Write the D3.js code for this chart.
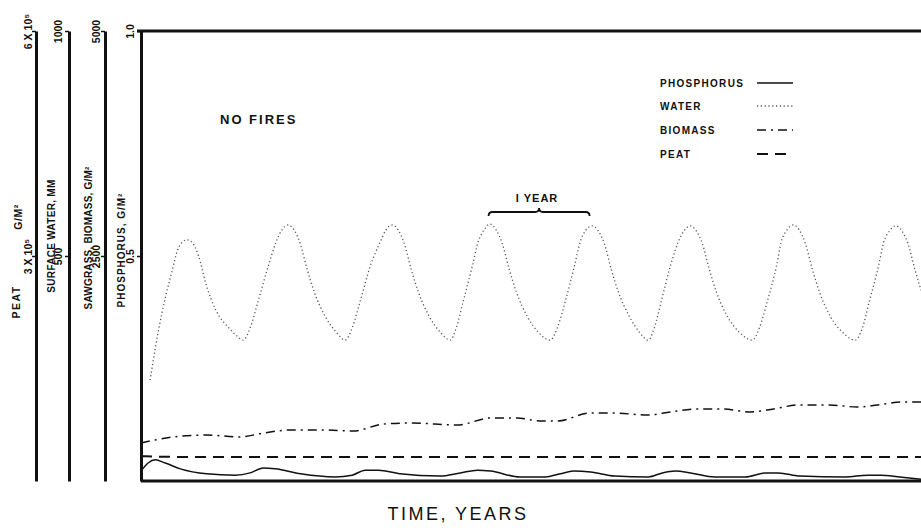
<!DOCTYPE html>
<html lang="en">
<head>
<meta charset="utf-8">
<title>No fires</title>
<script src="https://cdn.jsdelivr.net/npm/d3@7"></script>
<style>
  body { margin: 0; background: #fff; }
  svg { display: block; }
  .lbl { font-family: "Liberation Sans", Arial, sans-serif; font-weight: bold; fill: #111; }
  .axis path, .axis line { stroke: #111; }
  .axis text { font-family: "Liberation Sans", Arial, sans-serif; font-weight: bold; font-size: 10.5px; fill: #111; }
</style>
</head>
<body>
<script>
var w = 921, h = 528;

// [time in years, value]
var phosphorus = [[0,.022],[0.07,.040],[0.14,.047],[0.24,.040],[0.39,.027],[0.65,.016],[0.93,.013],[1.08,.018],
  [1.21,.029],[1.33,.027],[1.58,.016],[1.92,.009],[2.09,.013],[2.22,.024],[2.35,.024],[2.56,.016],[2.96,.011],
  [3.16,.018],[3.33,.024],[3.46,.022],[3.75,.009],[4.00,.009],[4.15,.016],[4.28,.022],[4.45,.020],[4.69,.011],
  [5.02,.009],[5.16,.018],[5.29,.022],[5.44,.018],[5.68,.009],[5.98,.009],[6.18,.018],[6.31,.018],[6.52,.011],
  [6.97,.009],[7.19,.013],[7.32,.013],[7.51,.009],[7.72,.004]];

// surface water, mm
var water = [[0.09,224],[0.17,331],[0.24,407],[0.31,469],[0.36,512],[0.41,531],[0.455,536],[0.51,529],
  [0.57,500],[0.64,440],[0.74,380],[0.87,340],[0.95,322],[1.01,313],
  [1.08,340],[1.16,400],[1.26,478],[1.335,530],[1.395,558],[1.455,569],
  [1.515,558],[1.575,528],[1.645,470],[1.715,420],[1.825,365],[1.935,330],[2.02,313],
  [2.09,340],[2.17,400],[2.27,478],[2.365,530],[2.425,558],[2.485,569],
  [2.545,558],[2.605,528],[2.675,470],[2.745,420],[2.855,365],[2.965,330],[3.06,313],
  [3.12,340],[3.19,400],[3.28,478],[3.335,530],[3.395,558],[3.455,571],
  [3.515,558],[3.575,528],[3.645,470],[3.715,420],[3.825,365],[3.935,330],[4.05,313],
  [4.12,340],[4.20,400],[4.29,478],[4.345,530],[4.405,558],[4.465,567],
  [4.525,556],[4.585,528],[4.655,470],[4.725,420],[4.835,365],[4.935,330],[5.02,313],
  [5.08,340],[5.15,400],[5.24,478],[5.315,530],[5.375,556],[5.435,567],
  [5.495,556],[5.555,528],[5.625,470],[5.695,420],[5.805,365],[5.925,330],[6.05,313],
  [6.12,340],[6.20,400],[6.29,478],[6.335,530],[6.395,558],[6.455,569],
  [6.515,558],[6.575,528],[6.645,470],[6.715,420],[6.825,365],[6.945,330],[7.07,313],
  [7.14,340],[7.21,400],[7.30,478],[7.35,530],[7.41,556],[7.47,567],
  [7.53,556],[7.59,528],[7.66,470],[7.72,424]];

var biomass = [[0,422],[0.32,489],[0.65,511],[0.98,489],[1.21,533],[1.48,567],[1.80,567],[2.10,556],
  [2.40,633],[2.69,644],[3.13,622],[3.46,700],[3.72,700],[3.95,667],[4.12,667],[4.45,756],[4.67,756],
  [5.01,733],[5.24,767],[5.50,800],[5.76,800],[6.03,767],[6.26,800],[6.50,844],[6.82,844],[7.09,822],
  [7.29,844],[7.54,878],[7.72,878]];

var peat = [[0,33000],[0.5,32000],[1,32000],[2,32000],[3,32000],[4,32000],[5,32000],[6,32000],[7,32000],[7.72,32000]];

var legendNames = ["PHOSPHORUS", "WATER", "BIOMASS", "PEAT"];
var peatTicks = [3e5, 6e5], peatTickLabels = ["3 X 10\u2075", "6 X 10\u2075"];
var waterTicks = [500, 1000], waterTickLabels = ["500", "1000"];
var biomassTicks = [2500, 5000], biomassTickLabels = ["2500", "5000"];
var phosTicks = [0.5, 1.0], phosTickLabels = ["0.5", "1.0"];

var plotTop = 31, plotBottom = 481, plotLeft = 141;

var svg = d3.select("body").append("svg").attr("width", w).attr("height", h);

var xScale = d3.scaleLinear().domain([0, 7.72]).range([plotLeft, w]);
var yPhos = d3.scaleLinear().domain([0, 1]).range([plotBottom, plotTop]);
var yWater = d3.scaleLinear().domain([0, 1000]).range([plotBottom, plotTop]);
var yBio = d3.scaleLinear().domain([0, 5000]).range([plotBottom, plotTop]);
var yPeat = d3.scaleLinear().domain([0, 6e5]).range([plotBottom, plotTop]);

// left axes
function drawAxis(scale, xPos, ticks, labels, off) {
  var ax = d3.axisLeft(scale).tickValues(ticks).tickSize(4).tickSizeOuter(0)
    .tickFormat(function(d, i) { return labels[i]; });
  var g = svg.append("g").attr("class", "axis")
    .attr("transform", "translate(" + xPos + ",0)").call(ax);
  g.select(".domain").attr("stroke-width", 3);
  g.selectAll(".tick line").attr("stroke-width", 1.5);
  g.selectAll(".tick text")
    .attr("transform", "rotate(-90)")
    .attr("x", 0).attr("y", -off).attr("dy", 0)
    .style("text-anchor", "middle");
  return g;
}
drawAxis(yPeat, 36, peatTicks, peatTickLabels, 4);
drawAxis(yWater, 69, waterTicks, waterTickLabels, 7);
drawAxis(yBio, 105, biomassTicks, biomassTickLabels, 5);
drawAxis(yPhos, plotLeft, phosTicks, phosTickLabels, 7);

// frame top and bottom
svg.append("line").attr("x1", plotLeft - 4).attr("x2", w).attr("y1", plotTop).attr("y2", plotTop)
  .attr("stroke", "#111").attr("stroke-width", 3);
svg.append("line").attr("x1", plotLeft).attr("x2", w).attr("y1", plotBottom).attr("y2", plotBottom)
  .attr("stroke", "#111").attr("stroke-width", 3);

// rotated axis titles
function vtext(txt, x, y, size, ls) {
  svg.append("text").attr("class", "lbl")
    .attr("transform", "translate(" + x + "," + y + ") rotate(-90)")
    .attr("text-anchor", "middle")
    .style("font-size", size + "px").style("letter-spacing", ls + "px")
    .text(txt);
}
vtext("PEAT", 20, 302, 10.5, 1.5);
vtext("G/M\u00b2", 22, 217, 10.5, 0.5);
vtext("SURFACE WATER,  MM", 55, 236, 10, 0.3);
vtext("SAWGRASS, BIOMASS, G/M\u00b2", 92, 238, 10, 0.2);
vtext("PHOSPHORUS,  G/M\u00b2", 125, 250, 10, 1);

// series
var line = function(ys) {
  return d3.line().x(function(d) { return xScale(d[0]); }).y(function(d) { return ys(d[1]); })
    .curve(d3.curveMonotoneX);
};
var styles = [
  { data: phosphorus, y: yPhos, dash: null, width: 1.5, color: "#111" },
  { data: water, y: yWater, dash: "1.2,2.6", width: 1.3, color: "#555" },
  { data: biomass, y: yBio, dash: "9,5,2,5", width: 1.5, color: "#111" },
  { data: peat, y: yPeat, dash: "11,7", width: 2, color: "#111" }
];
styles.forEach(function(s) {
  svg.append("path").datum(s.data)
    .attr("d", line(s.y))
    .attr("fill", "none")
    .attr("stroke", s.color)
    .attr("stroke-width", s.width)
    .attr("stroke-dasharray", s.dash);
});

// legend
var legY = [83, 106, 130, 154];
legendNames.forEach(function(n, i) {
  svg.append("text").attr("class", "lbl").attr("x", 660).attr("y", legY[i]).attr("dy", "0.35em")
    .style("font-size", "10px").style("letter-spacing", "1.3px").text(n);
  svg.append("line").attr("x1", 757).attr("x2", 793).attr("y1", legY[i]).attr("y2", legY[i])
    .attr("stroke", styles[i].color).attr("stroke-width", styles[i].width)
    .attr("stroke-dasharray", styles[i].dash);
});

// annotations
svg.append("text").attr("class", "lbl").attr("x", 220).attr("y", 124)
  .style("font-size", "13px").style("letter-spacing", "2px").text("NO FIRES");

var b0 = xScale(3.44), b1 = xScale(4.44), bm = (b0 + b1) / 2, by = 212;
svg.append("path")
  .attr("d", "M" + b0 + "," + (by + 4) + " Q" + b0 + "," + by + " " + (b0 + 4) + "," + by +
    " L" + (bm - 4) + "," + by + " Q" + bm + "," + by + " " + bm + "," + (by - 4) +
    " Q" + bm + "," + by + " " + (bm + 4) + "," + by +
    " L" + (b1 - 4) + "," + by + " Q" + b1 + "," + by + " " + b1 + "," + (by + 4))
  .attr("fill", "none").attr("stroke", "#111").attr("stroke-width", 1.8);
svg.append("text").attr("class", "lbl").attr("x", bm - 2).attr("y", 202).attr("text-anchor", "middle")
  .style("font-size", "11px").style("letter-spacing", "1px").text("I YEAR");

svg.append("text").attr("x", 458).attr("y", 520).attr("text-anchor", "middle")
  .style("font-family", "'Liberation Sans', Arial, sans-serif").style("font-size", "18px")
  .style("letter-spacing", "2.5px").attr("fill", "#111").text("TIME, YEARS");
</script>
</body>
</html>
